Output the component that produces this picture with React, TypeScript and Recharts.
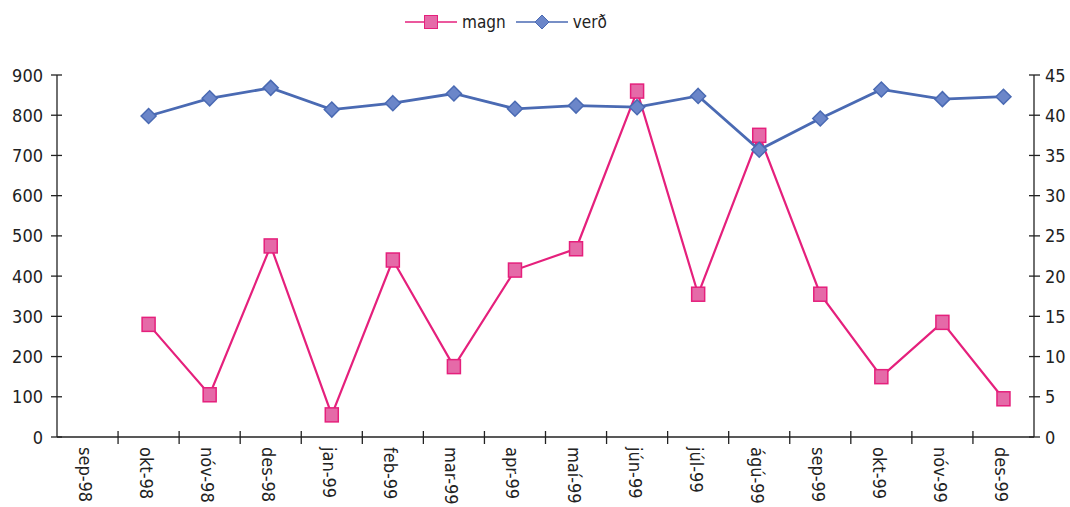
import React from 'react';
import { LineChart, Line, XAxis, YAxis, Legend } from 'recharts';

const months = ['sep-98', 'okt-98', 'nóv-98', 'des-98', 'jan-99', 'feb-99', 'mar-99', 'apr-99', 'maí-99', 'jún-99', 'júl-99', 'ágú-99', 'sep-99', 'okt-99', 'nóv-99', 'des-99'];
const magn = [null, 280, 105, 475, 55, 440, 175, 415, 468, 860, 355, 750, 355, 150, 285, 95];
const verd = [null, 39.9, 42.1, 43.4, 40.7, 41.5, 42.7, 40.8, 41.2, 41.0, 42.4, 35.7, 39.6, 43.2, 42.0, 42.3];
const leftTicks = [0, 100, 200, 300, 400, 500, 600, 700, 800, 900];
const rightTicks = [0, 5, 10, 15, 20, 25, 30, 35, 40, 45];

const data = months.map((m, i) => ({ month: m, magn: magn[i], verd: verd[i] }));

const FONT = '"Liberation Sans Narrow", "DejaVu Sans Condensed", "Liberation Sans", sans-serif';
const PINK = '#e5207c';
const PINK_FILL = '#e56aa8';
const BLUE = '#4a6ab3';
const BLUE_FILL = '#6b86c9';
const AXIS = '#222';

const SquareDot = (props: any) => {
  const { cx, cy, value } = props;
  if (value == null || cx == null) return null;
  return <rect x={cx - 6.5} y={cy - 7} width={13} height={14} fill={PINK_FILL} stroke={PINK} strokeWidth={1.5} />;
};

const DiamondDot = (props: any) => {
  const { cx, cy, value } = props;
  if (value == null || cx == null) return null;
  const r = 7.5;
  return (
    <polygon
      points={`${cx},${cy - r} ${cx + r},${cy} ${cx},${cy + r} ${cx - r},${cy}`}
      fill={BLUE_FILL}
      stroke={BLUE}
      strokeWidth={1.5}
    />
  );
};

// label at band centre, tick mark on the band's left edge
const MonthTick = ({ x, y, payload, index }: any) => {
  const half = payload && payload.offset ? payload.offset : 30.5;
  const edge = x - half;
  return (
    <g>
      {index > 0 && <line x1={edge} x2={edge} y1={y - 6} y2={y + 7} stroke={AXIS} strokeWidth={1.3} />}
      <text
        x={x - 2}
        y={y + 10}
        transform={`rotate(90, ${x - 2}, ${y + 10})`}
        textAnchor="start"
        dominantBaseline="central"
        fontFamily={FONT}
        fontSize={18}
        fill="#222"
      >
        {payload.value}
      </text>
    </g>
  );
};

const LeftTick = ({ x, y, payload }: any) => (
  <g>
    <line x1={x - 6} x2={x + 5} y1={y} y2={y} stroke={AXIS} strokeWidth={1.3} />
    <text x={x - 14} y={y} textAnchor="end" dominantBaseline="central" fontFamily={FONT} fontSize={18} fill="#222">
      {payload.value}
    </text>
  </g>
);

const RightTick = ({ x, y, payload }: any) => (
  <g>
    <line x1={x - 5} x2={x + 6} y1={y} y2={y} stroke={AXIS} strokeWidth={1.3} />
    <text x={x + 11} y={y} textAnchor="start" dominantBaseline="central" fontFamily={FONT} fontSize={18} fill="#222">
      {payload.value}
    </text>
  </g>
);

const LegendContent = () => (
  <div style={{ display: 'flex', alignItems: 'center', height: 20, paddingLeft: 403, fontFamily: FONT, fontSize: 17, color: '#222' }}>
    <svg width={56} height={16}>
      <line x1={2} x2={54} y1={8} y2={8} stroke={PINK} strokeWidth={1.5} />
      <rect x={21.5} y={1.5} width={13} height={13} fill={PINK_FILL} stroke={PINK} strokeWidth={1} />
    </svg>
    <span style={{ marginLeft: 3, marginRight: 8 }}>magn</span>
    <svg width={56} height={16}>
      <line x1={2} x2={54} y1={8} y2={8} stroke={BLUE} strokeWidth={1.5} />
      <polygon points="28,1 35,8 28,15 21,8" fill={BLUE_FILL} stroke={BLUE} strokeWidth={1} />
    </svg>
    <span style={{ marginLeft: 3 }}>verð</span>
  </div>
);

export default function App() {
  return (
    <div style={{ position: 'absolute', left: 0, top: 0, width: 1070, height: 507, background: '#fff' }}>
      <LineChart width={1070} height={507} data={data} margin={{ top: 55, right: 0, bottom: 0, left: 0 }}>
        <Legend verticalAlign="top" content={<LegendContent />} wrapperStyle={{ top: 12, left: 0, width: 1070, height: 20 }} />
        <XAxis
          dataKey="month"
          scale="band"
          height={70}
          interval={0}
          tickSize={0}
          tickMargin={0}
          tick={<MonthTick />}
          axisLine={{ stroke: AXIS, strokeWidth: 1.3 }}
          tickLine={false}
        />
        <YAxis
          yAxisId="left"
          width={57}
          domain={[0, 900]}
          ticks={leftTicks}
          interval={0}
          tickSize={0}
          tickMargin={0}
          tick={<LeftTick />}
          axisLine={{ stroke: AXIS, strokeWidth: 1.3 }}
          tickLine={false}
        />
        <YAxis
          yAxisId="right"
          orientation="right"
          width={36}
          domain={[0, 45]}
          ticks={rightTicks}
          interval={0}
          tickSize={0}
          tickMargin={0}
          tick={<RightTick />}
          axisLine={{ stroke: AXIS, strokeWidth: 1.3 }}
          tickLine={false}
        />
        <Line
          yAxisId="left"
          dataKey="magn"
          name="magn"
          stroke={PINK}
          strokeWidth={2.2}
          dot={<SquareDot />}
          activeDot={false}
          isAnimationActive={false}
        />
        <Line
          yAxisId="right"
          dataKey="verd"
          name="verð"
          stroke={BLUE}
          strokeWidth={2.8}
          dot={<DiamondDot />}
          activeDot={false}
          isAnimationActive={false}
        />
      </LineChart>
    </div>
  );
}
